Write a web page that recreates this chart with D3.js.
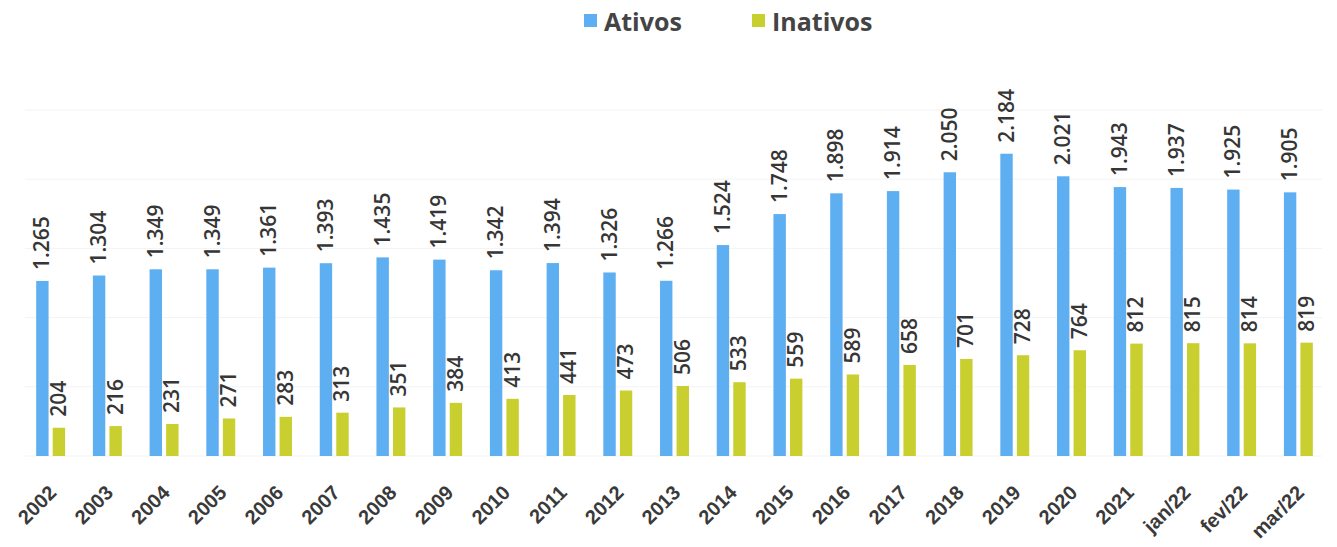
<!DOCTYPE html>
<html>
<head>
    <meta charset="utf-8">
    <title>Ativos e Inativos</title>
    <style>
        html, body { margin: 0; padding: 0; background: #fff; }
        svg { display: block; font-family: 'Open Sans', sans-serif; }
        .val { font-size: 21px; font-weight: 600; fill: #363636; }
        .tick text { font-size: 20px; font-weight: 700; fill: #3a3a3a; }
        .legend text { font-size: 25px; font-weight: 700; fill: #444; }
    </style>
    <script src="https://d3js.org/d3.v7.min.js"></script>
</head>
<body>
<script>
    var categories = ["2002", "2003", "2004", "2005", "2006", "2007", "2008", "2009", "2010", "2011",
        "2012", "2013", "2014", "2015", "2016", "2017", "2018", "2019", "2020", "2021",
        "jan/22", "fev/22", "mar/22"];
    var ativos = [1265, 1304, 1349, 1349, 1361, 1393, 1435, 1419, 1342, 1394,
        1326, 1266, 1524, 1748, 1898, 1914, 2050, 2184, 2021, 1943,
        1937, 1925, 1905];
    var inativos = [204, 216, 231, 271, 283, 313, 351, 384, 413, 441,
        473, 506, 533, 559, 589, 658, 701, 728, 764, 812,
        815, 814, 819];
    var seriesNames = ["Ativos", "Inativos"];
    var colors = ["#5eaef2", "#c8cf2e"];

    var width = 1337, height = 547;

    var svg = d3.select("body").append("svg")
        .attr("width", width)
        .attr("height", height);

    var x = d3.scaleBand().domain(categories)
        .range([22, 1327])
        .paddingInner(0.49)
        .paddingOuter(0.25);

    var xSub = d3.scaleBand().domain(seriesNames)
        .range([0, x.bandwidth()])
        .paddingInner(0.25);

    var y = d3.scaleLinear().domain([0, 2500]).range([456, 110]);

    // faint gridlines
    svg.append("g").selectAll("line")
        .data(y.ticks(5))
        .enter().append("line")
        .attr("x1", 25).attr("x2", 1322)
        .attr("y1", function(d) { return y(d); })
        .attr("y2", function(d) { return y(d); })
        .attr("stroke", "#f3f3f3")
        .attr("stroke-width", 1);

    var fmt = function(v) {
        return v >= 1000 ? Math.floor(v / 1000) + "." + String(v % 1000).padStart(3, "0") : String(v);
    };

    var data = categories.map(function(c, i) {
        return { cat: c, vals: [ativos[i], inativos[i]] };
    });

    var groups = svg.append("g").selectAll("g")
        .data(data)
        .enter().append("g")
        .attr("transform", function(d) { return "translate(" + x(d.cat) + ",0)"; });

    seriesNames.forEach(function(s, k) {
        groups.append("rect")
            .attr("x", xSub(s))
            .attr("width", xSub.bandwidth())
            .attr("y", function(d) { return y(d.vals[k]); })
            .attr("height", function(d) { return y(0) - y(d.vals[k]); })
            .attr("fill", colors[k]);

        groups.append("text")
            .attr("class", "val")
            .attr("transform", function(d) {
                var cx = xSub(s) + xSub.bandwidth() / 2 + 7;
                var cy = y(d.vals[k]) - 11;
                return "translate(" + cx + "," + cy + ") rotate(-90)";
            })
            .attr("text-anchor", "start")
            .text(function(d) { return fmt(d.vals[k]); });
    });

    // x axis labels
    var xAxis = d3.axisBottom(x).tickSize(0).tickPadding(0);
    var gx = svg.append("g")
        .attr("transform", "translate(0,470)")
        .call(xAxis);
    gx.select(".domain").remove();
    gx.selectAll(".tick text")
        .attr("text-anchor", "end")
        .attr("dy", 0)
        .attr("transform", "translate(7,24) rotate(-45)");

    // legend
    var legend = svg.append("g").attr("class", "legend");
    var legendX = [584, 752];
    seriesNames.forEach(function(s, k) {
        legend.append("rect")
            .attr("x", legendX[k]).attr("y", 14)
            .attr("width", 13).attr("height", 13)
            .attr("fill", colors[k]);
        legend.append("text")
            .attr("x", legendX[k] + 20).attr("y", 31)
            .text(s);
    });
</script>
</body>
</html>
